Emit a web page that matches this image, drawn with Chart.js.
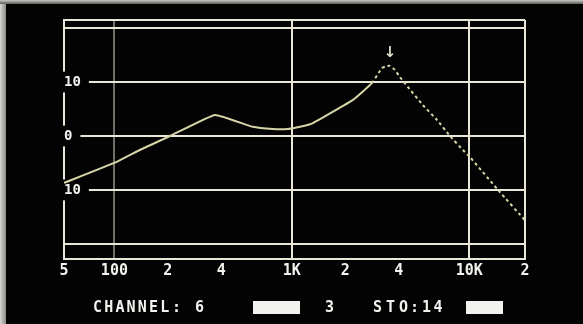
<!DOCTYPE html>
<html>
<head>
<meta charset="utf-8">
<script src="https://cdn.jsdelivr.net/npm/chart.js@4.4.0/dist/chart.umd.min.js"></script>
<style>
  html,body{margin:0;padding:0;background:#030303;width:583px;height:324px;overflow:hidden;}
  #wrap{position:relative;width:583px;height:324px;}
  canvas{position:absolute;left:0;top:0;}
  .edgeL{position:absolute;left:0;top:0;width:6px;height:324px;background:linear-gradient(to right,#d6d6d2,#8a8a86);}
  .edgeT{position:absolute;left:0;top:0;width:583px;height:4px;background:linear-gradient(to bottom,#c8c8c4,#5a5a58);}
</style>
</head>
<body>
<div id="wrap">
<canvas id="c" width="583" height="324"></canvas>
<div class="edgeL"></div><div class="edgeT"></div>
</div>
<script>
// ---- data (frequency in Hz, level in dB) ----
const freqs  = [52, 103, 139, 206, 369, 603, 782, 951, 1112, 1315, 2210, 2826, 3218, 3380, 3570, 3800, 4066, 4450, 5480, 6567, 7775, 9204, 10080, 14870, 20570];
const levels = [-8.7, -4.8, -2.6, 0, 3.9, 1.7, 1.3, 1.3, 1.7, 2.4, 6.7, 9.8, 12.6, 12.9, 13.0, 12.3, 10.9, 9.3, 5.7, 3.0, 0, -2.6, -3.9, -10.4, -15.6];
const xMin = 52, xMax = 20600;
const yMin = -22.8, yMax = 21.5;
const xTickValues = [52, 100, 200, 400, 1000, 2000, 4000, 10000, 20600];
const xTickLabels = ['5', '100', '2', '4', '1K', '2', '4', '10K', '2'];
const xGridValues = [100, 1000, 10000, 20600];
const yTickValues = [yMin, -20, -10, 0, 10, 20, yMax];
const yTickLabels = ['', '', '10', '0', '10', '', ''];
const peakFreq = 3570, peakLevel = 13.0;
const statusItems = [
  {t:'CHANNEL', x:93, adv:11.2}, {t:':', x:172, adv:11}, {t:'6', x:195, adv:11},
  {t:'3', x:325, adv:11}, {t:'STO', x:373, adv:13}, {t:':', x:410, adv:11}, {t:'14', x:422, adv:11.5}
];
const statusBlocks = [[253, 300], [466, 503]];

const LINE = '#e9e8d8';
const CURVE = '#d6d5a8';
const TXT = '#f2f2ee';

const extras = {
  id: 'extras',
  afterDraw(chart) {
    const ctx = chart.ctx;
    const xs = chart.scales.x, ys = chart.scales.y;
    ctx.save();
    // marker arrow above the peak
    const px = xs.getPixelForValue(peakFreq);
    const py = ys.getPixelForValue(peakLevel);
    ctx.fillStyle = '#deddc4';
    ctx.font = 'bold 15px "DejaVu Sans"';
    ctx.textAlign = 'center';
    ctx.textBaseline = 'bottom';
    ctx.fillText('↓', px, py - 5);
    // status line
    ctx.fillStyle = TXT;
    ctx.font = 'bold 15px "DejaVu Sans Mono"';
    ctx.textAlign = 'left';
    ctx.textBaseline = 'middle';
    statusItems.forEach(it => {
      let x = it.x;
      for (const ch of it.t) { ctx.fillText(ch, x, 308); x += it.adv; }
    });
    statusBlocks.forEach(b => { ctx.fillRect(b[0], 301, b[1] - b[0], 13); });
    ctx.restore();
  }
};

new Chart(document.getElementById('c'), {
  type: 'line',
  data: {
    datasets: [{
      data: freqs.map((f, i) => ({x: f, y: levels[i]})),
      borderColor: CURVE,
      borderWidth: 2,
      pointRadius: 0,
      tension: 0.1,
      fill: false,
      segment: {
        borderDash: c => (c.p0.parsed.x >= 2826 ? [3, 3] : undefined)
      }
    }]
  },
  options: {
    responsive: false,
    animation: false,
    devicePixelRatio: 1,
    layout: {padding: {left: 64, right: 58, top: 20, bottom: 0}},
    plugins: {legend: {display: false}, tooltip: {enabled: false}},
    scales: {
      x: {
        type: 'logarithmic',
        min: xMin, max: xMax,
        afterBuildTicks: s => { s.ticks = xTickValues.map(v => ({value: v})); },
        afterFit: s => { s.height = 65; },
        ticks: {
          autoSkip: false, maxRotation: 0, padding: 3,
          color: TXT,
          font: {family: 'DejaVu Sans Mono', size: 15, weight: 'bold'},
          callback: (v, i) => xTickLabels[i]
        },
        grid: {
          drawTicks: false,
          lineWidth: 2,
          color: c => {
            const v = c.tick ? c.tick.value : null;
            if (v === 100) return 'rgba(200,200,185,0.55)';
            return xGridValues.includes(v) ? LINE : 'rgba(0,0,0,0)';
          }
        },
        border: {display: true, color: LINE, width: 2}
      },
      y: {
        type: 'linear',
        min: yMin, max: yMax,
        afterBuildTicks: s => { s.ticks = yTickValues.map(v => ({value: v})); },
        afterFit: s => { s.width = 0; },
        ticks: {
          mirror: true, padding: 0,
          color: TXT,
          font: {family: 'DejaVu Sans Mono', size: 14, weight: 'bold'},
          callback: (v, i) => yTickLabels[i],
          showLabelBackdrop: true,
          backdropColor: c => (yTickLabels[c.index] ? '#030303' : 'rgba(0,0,0,0)'),
          backdropPadding: {left: 1, right: 8, top: 2, bottom: 2}
        },
        grid: {drawTicks: false, lineWidth: 2, color: LINE},
        border: {display: true, color: LINE, width: 2}
      }
    }
  },
  plugins: [extras]
});
</script>
</body>
</html>
